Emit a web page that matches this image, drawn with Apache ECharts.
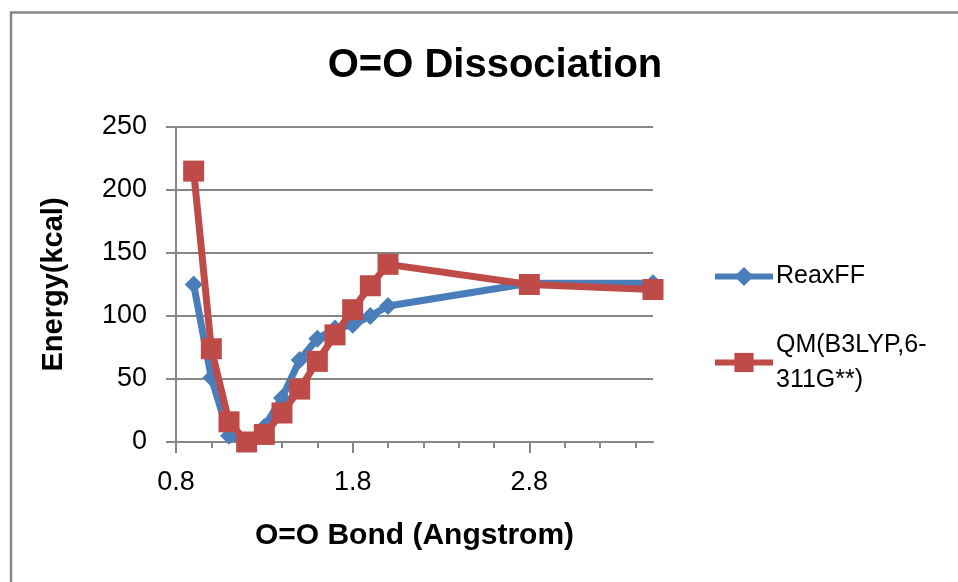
<!DOCTYPE html>
<html>
<head>
<meta charset="utf-8">
<title>O=O Dissociation</title>
<script src="https://cdn.jsdelivr.net/npm/echarts@6/dist/echarts.min.js"></script>
<style>
  html, body { margin: 0; padding: 0; background: #fff; }
  #chart { width: 958px; height: 582px; }
</style>
</head>
<body>
<div id="chart"></div>
<script>
// O=O bond length (Angstrom) at each scan point
const bondLength = [0.9, 1.0, 1.1, 1.2, 1.3, 1.4, 1.5, 1.6, 1.7, 1.8, 1.9, 2.0, 2.8, 3.5];
// Energies (kcal) relative to the minimum
const reaxffEnergy = [125, 51, 5, 0, 12, 35, 65, 82, 90, 93, 100, 108, 126, 126];
const qmEnergy = [215, 74, 16, 0, 6, 23, 42, 64, 85, 105, 124, 141, 125, 121];

const seriesNames = ['ReaxFF', 'QM(B3LYP,6-311G**)'];
const xMajorTicks = [0.8, 1.8, 2.8];
const xMinorTicks = [1.0, 1.2, 1.4, 1.6, 2.0, 2.2, 2.4, 2.6, 3.0, 3.2, 3.4];
const yTicks = [0, 50, 100, 150, 200, 250];

const FONT = '"Liberation Sans", Arial, sans-serif';
const GRID_GRAY = '#868686';
const BLUE = '#4A7EBB';
const RED = '#BE4B48';

const grid = { left: 176, right: 305, top: 127, bottom: 140 };
const gridHeight = 582 - grid.top - grid.bottom;

const chart = echarts.init(document.getElementById('chart'), null, { renderer: 'canvas' });

const pair = (xs, ys) => xs.map((x, i) => [x, ys[i]]);

const legendBase = {
  orient: 'vertical',
  left: 712,
  padding: 0,
  itemWidth: 58,
  itemHeight: 24,
  itemGap: 6,
  lineStyle: { width: 6 }
};

chart.setOption({
  animation: false,
  backgroundColor: '#fff',
  textStyle: { fontFamily: FONT },
  title: {
    text: 'O=O Dissociation',
    left: 490,
    top: 41,
    textAlign: 'center',
    textStyle: { fontFamily: FONT, fontSize: 40, fontWeight: 'bold', color: '#000' }
  },
  graphic: [{
    type: 'rect',
    shape: { x: 11, y: 12.5, width: 1000, height: 640 },
    style: { fill: null, stroke: GRID_GRAY, lineWidth: 2.5 },
    silent: true,
    z: -10
  }],
  legend: [Object.assign({}, legendBase, {
    data: [seriesNames[0]],
    top: 264,
    itemStyle: { color: BLUE },
    textStyle: { fontFamily: FONT, fontSize: 25, color: '#000', padding: [0, 0, 0, -2] }
  }), Object.assign({}, legendBase, {
    data: [seriesNames[1]],
    top: 310,
    itemStyle: { color: RED },
    formatter: () => 'QM(B3LYP,6-\n311G**)',
    textStyle: { fontFamily: FONT, fontSize: 25, lineHeight: 35, color: '#000', padding: [35, 0, 0, -2] }
  })],
  grid: grid,
  xAxis: [{
    type: 'value',
    min: 0.8,
    max: 3.5,
    interval: 0.2,
    position: 'bottom',
    name: 'O=O Bond (Angstrom)',
    nameLocation: 'middle',
    nameGap: 79,
    nameTextStyle: { fontFamily: FONT, fontSize: 30, fontWeight: 'bold', color: '#000' },
    axisLine: { show: true, lineStyle: { color: GRID_GRAY, width: 2 } },
    axisTick: { show: true, inside: false, length: 6, customValues: xMinorTicks, lineStyle: { color: GRID_GRAY, width: 2 } },
    axisLabel: { customValues: xMajorTicks, fontFamily: FONT, fontSize: 27, color: '#000', margin: 27 },
    splitLine: { show: false }
  }, {
    // major tick marks, placed on the bottom edge
    type: 'value',
    min: 0.8,
    max: 3.5,
    position: 'top',
    offset: -gridHeight,
    axisLine: { show: false },
    axisTick: { show: true, inside: true, length: 11, customValues: xMajorTicks, lineStyle: { color: GRID_GRAY, width: 2 } },
    axisLabel: { show: false },
    splitLine: { show: false }
  }],
  yAxis: {
    type: 'value',
    min: 0,
    max: 250,
    interval: 50,
    name: 'Energy(kcal)',
    nameLocation: 'middle',
    nameGap: 108,
    nameTextStyle: { fontFamily: FONT, fontSize: 29, fontWeight: 'bold', color: '#000' },
    axisLine: { show: true, lineStyle: { color: GRID_GRAY, width: 2 } },
    axisTick: { show: true, inside: false, length: 10, customValues: yTicks, lineStyle: { color: GRID_GRAY, width: 2 } },
    axisLabel: { customValues: yTicks, fontFamily: FONT, fontSize: 27, color: '#000', margin: 29 },
    splitLine: { show: true, lineStyle: { color: GRID_GRAY, width: 2 } }
  },
  series: [{
    name: seriesNames[0],
    type: 'line',
    xAxisIndex: 0,
    data: pair(bondLength, reaxffEnergy),
    symbol: 'diamond',
    symbolSize: 18,
    showAllSymbol: true,
    lineStyle: { color: BLUE, width: 7 },
    itemStyle: { color: BLUE, borderWidth: 0 },
    z: 2
  }, {
    name: seriesNames[1],
    type: 'line',
    xAxisIndex: 0,
    data: pair(bondLength, qmEnergy),
    symbol: 'rect',
    symbolSize: 21,
    showAllSymbol: true,
    lineStyle: { color: RED, width: 7 },
    itemStyle: { color: RED, borderWidth: 0 },
    z: 3
  }]
});
</script>
</body>
</html>
